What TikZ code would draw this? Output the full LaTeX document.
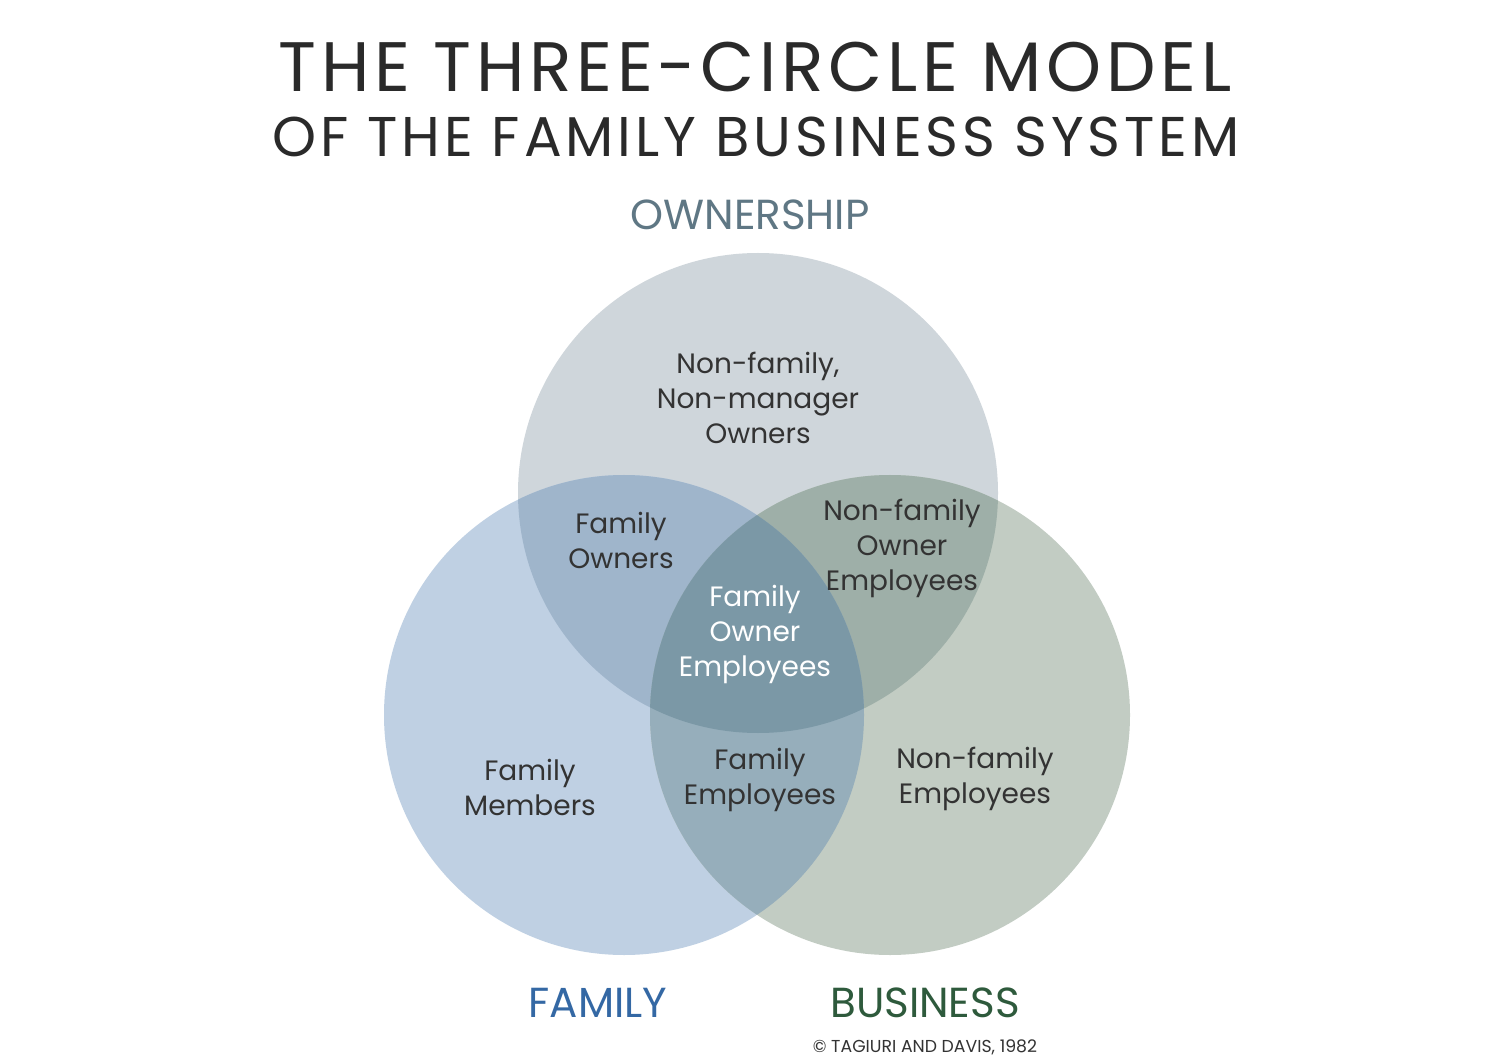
\documentclass[tikz,border=0pt]{standalone}
\usepackage{fontspec}
\setmainfont{Poppins}
\definecolor{cO}{HTML}{CFD6DB}
\definecolor{cF}{HTML}{BFD0E3}
\definecolor{cB}{HTML}{C2CCC3}
\definecolor{cOF}{HTML}{9FB5CB}
\definecolor{cOB}{HTML}{9EAFA8}
\definecolor{cFB}{HTML}{96AEBB}
\definecolor{cOFB}{HTML}{7B98A6}
\definecolor{txt}{HTML}{333333}
\definecolor{ttl}{HTML}{2A2A2A}
\definecolor{ownc}{HTML}{5F7784}
\definecolor{famc}{HTML}{3468A4}
\definecolor{busc}{HTML}{2E5A3C}
\tikzset{
  region/.style={text=txt,align=center,font=\fontsize{28}{35}\selectfont,inner sep=0pt},
  setlabel/.style={font=\fontsize{42}{46}\selectfont,inner sep=0pt,anchor=base},
}
\begin{document}
\begin{tikzpicture}[x=1pt,y=-1pt]
\useasboundingbox (0,0) rectangle (1500,1064);
\fill[white] (0,0) rectangle (1500,1064);
\coordinate (O) at (758,493);
\coordinate (F) at (624,715);
\coordinate (B) at (890,715);
\fill[cO] (O) circle[radius=240];
\fill[cF] (F) circle[radius=240];
\fill[cB] (B) circle[radius=240];
\begin{scope}
  \clip (O) circle[radius=240];
  \fill[cOF] (F) circle[radius=240];
  \fill[cOB] (B) circle[radius=240];
\end{scope}
\begin{scope}
  \clip (F) circle[radius=240];
  \fill[cFB] (B) circle[radius=240];
\end{scope}
\begin{scope}
  \clip (O) circle[radius=240];
  \clip (F) circle[radius=240];
  \fill[cOFB] (B) circle[radius=240];
\end{scope}
% titles
\node[anchor=base,inner sep=0pt,text=ttl,font=\fontsize{70}{74}\selectfont\addfontfeatures{LetterSpace=6.7}] (t1) at (755,92) {THE THREE-CIRCLE MODEL};
\node[anchor=base,inner sep=0pt,text=ttl,font=\fontsize{56}{60}\selectfont\addfontfeatures{LetterSpace=7}] (t2) at (756,157) {OF THE FAMILY BUSINESS SYSTEM};
\node[setlabel,text=ownc] (own) at (750,230) {OWNERSHIP};
\node[setlabel,text=famc] (fam) at (598,1017) {FAMILY};
\node[setlabel,text=busc] (bus) at (925,1017) {BUSINESS};
\node[anchor=base,inner sep=0pt,text=txt,font=\fontsize{17.3}{19}\selectfont] (copy) at (925,1052) {© TAGIURI AND DAVIS, 1982};
% regions
\node[region] (r1) at (758,398) {Non-family,\\Non-manager\\Owners};
\node[region] (r2) at (621,540) {Family\\Owners};
\node[region] (r3) at (902,548) {Non-family\\Owner\\Employees};
\node[region,text=white] (r4) at (755,634) {Family\\Owner\\Employees};
\node[region] (r5) at (530,787) {Family\\Members};
\node[region] (r6) at (760,780) {Family\\Employees};
\node[region] (r7) at (975,779) {Non-family\\Employees};
\end{tikzpicture}
\end{document}
